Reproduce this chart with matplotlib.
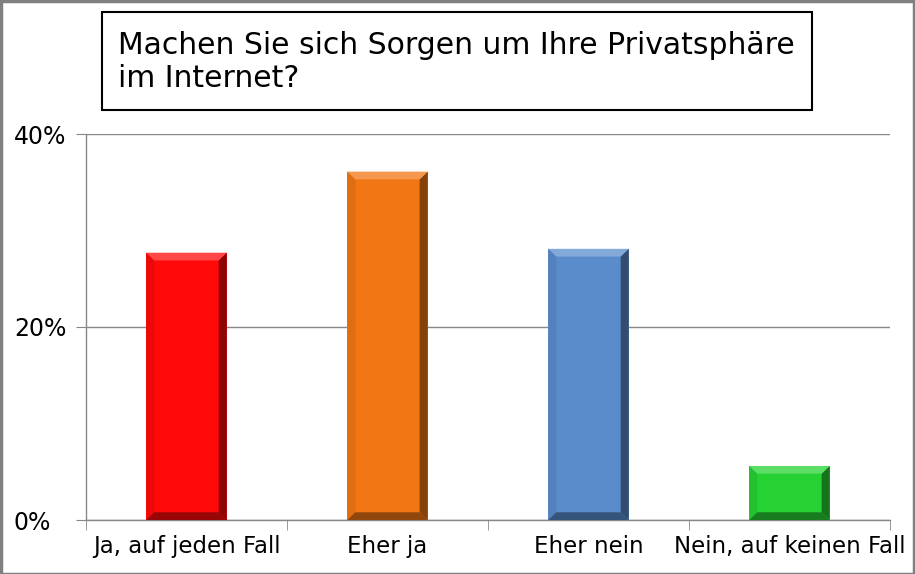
import matplotlib
matplotlib.use("Agg")
import matplotlib.pyplot as plt
from matplotlib.patches import Polygon, Rectangle
from matplotlib.colors import to_rgb
import numpy as np

categories = ["Ja, auf jeden Fall", "Eher ja", "Eher nein", "Nein, auf keinen Fall"]
values = [27.7, 36.1, 28.1, 5.6]
colors = ["#ff0a0a", "#f27613", "#5a8ccc", "#26d133"]
yticks = [0, 20, 40]
ytick_labels = ["0%", "20%", "40%"]
title = "Machen Sie sich Sorgen um Ihre Privatsphäre\nim Internet?"

W, H = 915, 574
fig = plt.figure(figsize=(W / 100, H / 100), dpi=100)
ax = fig.add_axes([86 / W, (H - 520) / H, (890 - 86) / W, (520 - 134) / H])

def shade(c, f):
    r = np.array(to_rgb(c))
    if f >= 0:
        return tuple(r + (1 - r) * f)
    return tuple(r * (1 + f))

x = np.arange(len(categories))
bw = 0.4
bars = ax.bar(x, values, width=bw, color=colors, zorder=3, linewidth=0)

bx = 0.04   # bevel width in data x
by = 0.8    # bevel height in data y
for b, c in zip(bars, colors):
    x0, y0 = b.get_x(), b.get_y()
    x1, y1 = x0 + b.get_width(), y0 + b.get_height()
    byy = min(by, (y1 - y0) / 3)
    top = [(x0, y1), (x1, y1), (x1 - bx, y1 - byy), (x0 + bx, y1 - byy)]
    bot = [(x0, y0), (x1, y0), (x1 - bx, y0 + byy), (x0 + bx, y0 + byy)]
    left = [(x0, y0), (x0, y1), (x0 + bx, y1 - byy), (x0 + bx, y0 + byy)]
    right = [(x1, y0), (x1, y1), (x1 - bx, y1 - byy), (x1 - bx, y0 + byy)]
    ax.add_patch(Polygon(left, closed=True, color=shade(c, -0.08), zorder=4, lw=0))
    ax.add_patch(Polygon(right, closed=True, color=shade(c, -0.45), zorder=4, lw=0))
    ax.add_patch(Polygon(bot, closed=True, color=shade(c, -0.4), zorder=4, lw=0))
    ax.add_patch(Polygon(top, closed=True, color=shade(c, 0.25), zorder=5, lw=0))

ax.set_xlim(-0.5, len(categories) - 0.5)
ax.set_ylim(0, 40)
ax.set_yticks(yticks)
ax.set_yticklabels(ytick_labels, fontsize=17, ha="left")
ax.tick_params(axis="y", length=7, color="#888888", direction="out", pad=45)
ax.set_xticks(x)
ax.set_xticklabels(categories, fontsize=16.5)
ax.tick_params(axis="x", length=0, pad=11)
ax.set_xticks(np.arange(-0.5, len(categories)), minor=True)
ax.tick_params(axis="x", which="minor", length=7, color="#888888", direction="out")
ax.yaxis.grid(True, color="#888888", lw=1, zorder=0)
for s in ["top", "right"]:
    ax.spines[s].set_visible(False)
for s in ["left", "bottom"]:
    ax.spines[s].set_color("#888888")
    ax.spines[s].set_linewidth(1)

# title box
fig.patches.append(Rectangle((102 / W, 1 - 110 / H), (812 - 102) / W, (110 - 12) / H,
                             transform=fig.transFigure, fill=False, ec="black", lw=1.5))
fig.text(118 / W, 1 - 62 / H, title, fontsize=21.5, ha="left", va="center",
         linespacing=1.17)

# outer border
fig.patches.append(Rectangle((0.5 / W, 0.5 / H), 1 - 1.5 / W, 1 - 1.5 / H,
                             transform=fig.transFigure, fill=False, ec="#808080", lw=2.5))

fig.savefig("out.png", dpi=100)
